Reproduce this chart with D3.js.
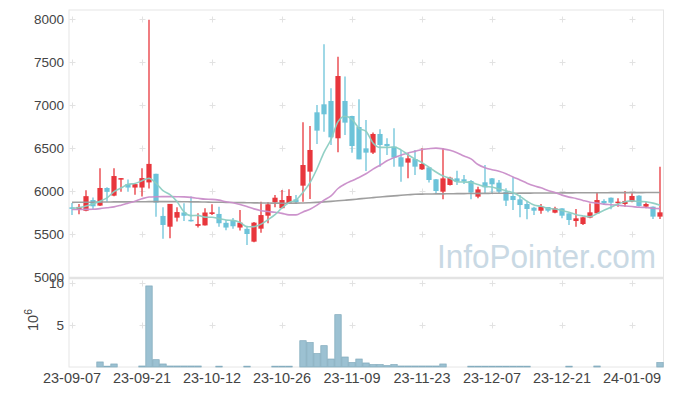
<!DOCTYPE html>
<html><head><meta charset="utf-8">
<script src="https://cdn.jsdelivr.net/npm/d3@7/dist/d3.min.js"></script>
<style>body{margin:0;background:#fff}svg{display:block}text{font-family:"Liberation Sans",Arial,sans-serif}</style>
</head><body><svg id="c" width="673" height="396"></svg>
<script>
const dates = ["23-09-07","23-09-08","23-09-11","23-09-12","23-09-13","23-09-14","23-09-15","23-09-18","23-09-19","23-09-20",
"23-09-21","23-09-22","23-09-25","23-09-26","23-09-27","23-10-04","23-10-05","23-10-06","23-10-10","23-10-11",
"23-10-12","23-10-13","23-10-16","23-10-17","23-10-18","23-10-19","23-10-20","23-10-23","23-10-24","23-10-25",
"23-10-26","23-10-27","23-10-30","23-10-31","23-11-01","23-11-02","23-11-03","23-11-06","23-11-07","23-11-08",
"23-11-09","23-11-10","23-11-13","23-11-14","23-11-15","23-11-16","23-11-17","23-11-20","23-11-21","23-11-22",
"23-11-23","23-11-24","23-11-27","23-11-28","23-11-29","23-11-30","23-12-01","23-12-04","23-12-05","23-12-06",
"23-12-07","23-12-08","23-12-11","23-12-12","23-12-13","23-12-14","23-12-15","23-12-18","23-12-19","23-12-20",
"23-12-21","23-12-22","23-12-26","23-12-27","23-12-28","24-01-02","24-01-03","24-01-04","24-01-05","24-01-08",
"24-01-09","24-01-10","24-01-11","24-01-12","24-01-15"];
const open = [5810,5783,5770,5895,5830,6035,5946,6132,6080,6040,6040,6100,6200,5710,5585,5690,5750,5665,5595,5600,
5733,5733,5630,5660,5575,5560,5411,5562,5713,5868,5800,5857,5903,6062,6225,6915,7008,7047,6613,7047,
6872,6744,6496,6446,6663,6547,6516,6392,6330,6372,6252,6275,6136,5992,6070,6147,6136,6116,5934,6101,
6147,6097,5992,5942,5903,5849,5806,5771,5814,5748,5798,5740,5651,5616,5690,5740,5884,5922,5864,5849,
5876,5946,5818,5818,5702];
const high = [5860,5850,6010,5925,6265,6045,6265,6150,6135,6085,6265,7990,6200,5810,5850,5810,5857,5935,5740,5800,
5845,5818,5663,5686,5780,5597,5640,5876,5868,5953,6012,6020,5953,6800,6756,7000,7706,7194,7562,7330,
6875,7066,6826,6680,6717,6613,6729,6477,6438,6477,6496,6280,6140,6496,6167,6236,6186,6128,6050,6302,
6150,6128,6031,6159,5953,5876,5818,5850,5815,5818,5800,5740,5791,5702,5856,5984,5903,5925,5915,6000,
5973,5950,5868,5820,6283];
const low = [5720,5730,5765,5790,5825,5875,5940,5990,5990,5955,5935,6030,5700,5445,5450,5645,5650,5645,5575,5600,
5720,5585,5545,5560,5540,5372,5405,5515,5625,5810,5798,5850,5850,5876,5907,6547,6690,6535,6450,6651,
6446,6368,6233,6430,6283,6419,6283,6109,6148,6186,6244,6100,5973,5903,6065,6070,6081,5903,5915,5973,
5965,5973,5826,5779,5694,5671,5721,5735,5752,5740,5682,5605,5585,5605,5682,5738,5837,5787,5818,5818,
5868,5818,5798,5674,5674];
const close = [5795,5815,5940,5822,6035,5990,6174,6150,6040,6080,6150,6315,5865,5605,5850,5755,5712,5648,5615,5750,
5752,5625,5575,5590,5632,5500,5632,5720,5845,5922,5895,5942,5870,6302,6477,6702,6892,6624,7337,6795,
6523,6368,6446,6663,6535,6523,6388,6283,6380,6283,6314,6128,6000,6147,6155,6109,6110,5981,6019,6043,
6078,5992,5888,5895,5837,5791,5771,5818,5771,5798,5713,5663,5682,5694,5752,5895,5857,5864,5876,5884,
5942,5826,5849,5702,5752];
const volume = [0,0,0,0,0.6,0.1,0.36,0,0,0,0.12,9.65,0.87,0.36,0.12,0.12,0.12,0.12,0.12,0,
0,0.1,0,0,0,0.1,0,0,0,0.1,0.1,0.1,0,3.13,2.9,1.59,2.54,0.95,6.23,1.19,
0.52,0.95,0.48,0.28,0.28,0.16,0.28,0.12,0.12,0.12,0.12,0.12,0.12,0.36,0,0,0,0.1,0.1,0.1,
0.1,0.1,0.1,0.1,0.1,0.1,0,0,0,0,0,0.1,0,0,0,0.12,0,0,0,0,
0,0,0,0,0.52];
const ma5 = [5800,5805,5825,5850,5881,5920,5992,6034,6078,6087,6119,6147,6090,6003,5957,5878,5757,5714,5716,5696,
5695,5678,5663,5658,5635,5584,5586,5615,5666,5724,5803,5865,5895,5986,6097,6259,6449,6599,6806,6870,
6834,6729,6694,6559,6507,6507,6511,6478,6422,6371,6330,6278,6221,6174,6149,6108,6104,6100,6075,6052,
6046,6023,6004,5979,5938,5881,5836,5822,5798,5790,5774,5753,5725,5710,5701,5737,5776,5812,5849,5875,
5885,5878,5875,5859,5833];
const ma20 = [5785,5785,5786,5788,5795,5805,5815,5835,5858,5882,5910,5930,5934,5935,5935,5934,5932,5926,5915,5905,
5903,5894,5875,5864,5844,5819,5792,5771,5761,5753,5740,5722,5722,5757,5788,5835,5894,5943,6029,6081,
6120,6157,6201,6254,6300,6351,6388,6417,6443,6461,6482,6492,6498,6490,6474,6445,6406,6373,6308,6270,
6248,6229,6201,6163,6128,6091,6060,6037,6007,5982,5952,5929,5913,5890,5870,5860,5847,5841,5834,5826,
5819,5811,5809,5799,5795];
const ma60 = [5868,5869,5870,5870,5871,5872,5873,5874,5874,5875,5875,5876,5876,5876,5876,5876,5875,5874,5873,5872,
5870,5869,5868,5866,5865,5864,5862,5861,5860,5859,5858,5858,5859,5861,5864,5868,5873,5879,5886,5893,
5900,5908,5916,5923,5930,5937,5943,5950,5956,5962,5964,5965,5966,5967,5968,5969,5970,5971,5972,5972,
5973,5973,5974,5974,5975,5975,5976,5976,5977,5977,5978,5978,5979,5979,5980,5980,5980,5981,5981,5981,
5981,5981,5982,5982,5982];
const priceTicks = [5000,5500,6000,6500,7000,7500,8000];
const volTicks = [5,10];
const volUnit = "10";
const volUnitExp = "6";
const watermark = "InfoPointer.com";
const tickEvery = 10;

const svg = d3.select("#c");
const L = 68.5, R = 663.5, T = 10, SEP = 278, B = 367;
const idx = d3.range(dates.length);
const x = d3.scaleBand().domain(idx).range([L, R]).padding(0);
const cx = i => x(i) + x.bandwidth() / 2;
const yP = d3.scaleLinear().domain([5000, 8000]).range([277, 19]);
const yV = d3.scaleLinear().domain([0, 10]).range([367, 283]);
const UP = "#e8363c", DOWN = "#6cc3d9";
const tickIdx = idx.filter(i => i % tickEvery === 0);

// frame
const frame = svg.append("g").attr("stroke", "#e6e6e6").attr("fill", "none");
frame.append("rect").attr("x", 69).attr("y", T).attr("width", R - 69).attr("height", B - T);
svg.append("line").attr("x1", 69).attr("x2", R).attr("y1", SEP).attr("y2", SEP)
  .attr("stroke", "#e3e3e3").attr("stroke-width", 2.5);

// grid crosses
const crosses = svg.append("g").attr("stroke", "#e2e2e2").attr("stroke-width", 1);
const crossYs = priceTicks.filter(p => p > 5000).map(p => yP(p)).concat(volTicks.map(v => yV(v)));
tickIdx.forEach(i => crossYs.forEach(yy => {
  const X = Math.round(cx(i)) + 0.5, Y = Math.round(yy) + 0.5;
  crosses.append("line").attr("x1", X - 3).attr("x2", X + 3).attr("y1", Y).attr("y2", Y);
  crosses.append("line").attr("x1", X).attr("x2", X).attr("y1", Y - 3).attr("y2", Y + 3);
}));

// watermark
svg.append("text").attr("x", 656).attr("y", 268).attr("text-anchor", "end")
  .attr("font-size", 33).attr("fill", "#c9d9e4").attr("textLength", 219).attr("lengthAdjust", "spacingAndGlyphs")
  .text(watermark);

// candles
const cg = svg.append("g");
idx.forEach(i => {
  const up = close[i] >= open[i];
  const col = up ? UP : DOWN;
  cg.append("line").attr("x1", cx(i)).attr("x2", cx(i)).attr("y1", yP(high[i])).attr("y2", yP(low[i]))
    .attr("stroke", col).attr("stroke-width", 1.3);
  const y0 = yP(Math.max(open[i], close[i])), y1 = yP(Math.min(open[i], close[i]));
  cg.append("rect").attr("x", cx(i) - 2.6).attr("width", 5.2).attr("y", y0).attr("height", Math.max(1.5, y1 - y0))
    .attr("fill", col);
});

// moving averages
const line = arr => d3.line().x((d, i) => cx(i)).y(d => yP(d)).curve(d3.curveMonotoneX)(arr);
svg.append("path").attr("d", line(ma60)).attr("fill", "none").attr("stroke", "#9a9a9a").attr("stroke-width", 1.6).attr("opacity", 0.95);
svg.append("path").attr("d", line(ma20)).attr("fill", "none").attr("stroke", "#c98dc9").attr("stroke-width", 1.6).attr("opacity", 0.95);
svg.append("path").attr("d", line(ma5)).attr("fill", "none").attr("stroke", "#8ccdc2").attr("stroke-width", 1.6).attr("opacity", 0.95);

// volume bars
svg.append("g").selectAll("rect").data(idx.filter(i => volume[i] > 0)).join("rect")
  .attr("x", i => cx(i) - 3.2).attr("width", 6.4)
  .attr("y", i => yV(volume[i])).attr("height", i => yV(0) - yV(volume[i]))
  .attr("fill", "#9cc1d2").attr("stroke", "#7fa8bb").attr("stroke-width", 0.7);

// axis labels
const lab = svg.append("g").attr("fill", "#444");
priceTicks.forEach(p => lab.append("text").attr("x", 64).attr("y", yP(p)).attr("dy", "0.36em")
  .attr("text-anchor", "end").attr("font-size", 13.5).text(p));
volTicks.forEach(v => lab.append("text").attr("x", 64).attr("y", yV(v)).attr("dy", "0.36em")
  .attr("text-anchor", "end").attr("font-size", 13.5).text(v));
tickIdx.forEach(i => lab.append("text").attr("x", cx(i)).attr("y", 383).attr("text-anchor", "middle")
  .attr("font-size", 14.5).text(dates[i]));
const ut = lab.append("text").attr("transform", "translate(38,331) rotate(-90)").attr("font-size", 14.5);
ut.append("tspan").text(volUnit);
ut.append("tspan").attr("dy", -6).attr("font-size", 10.5).text(volUnitExp);
</script></body></html>
